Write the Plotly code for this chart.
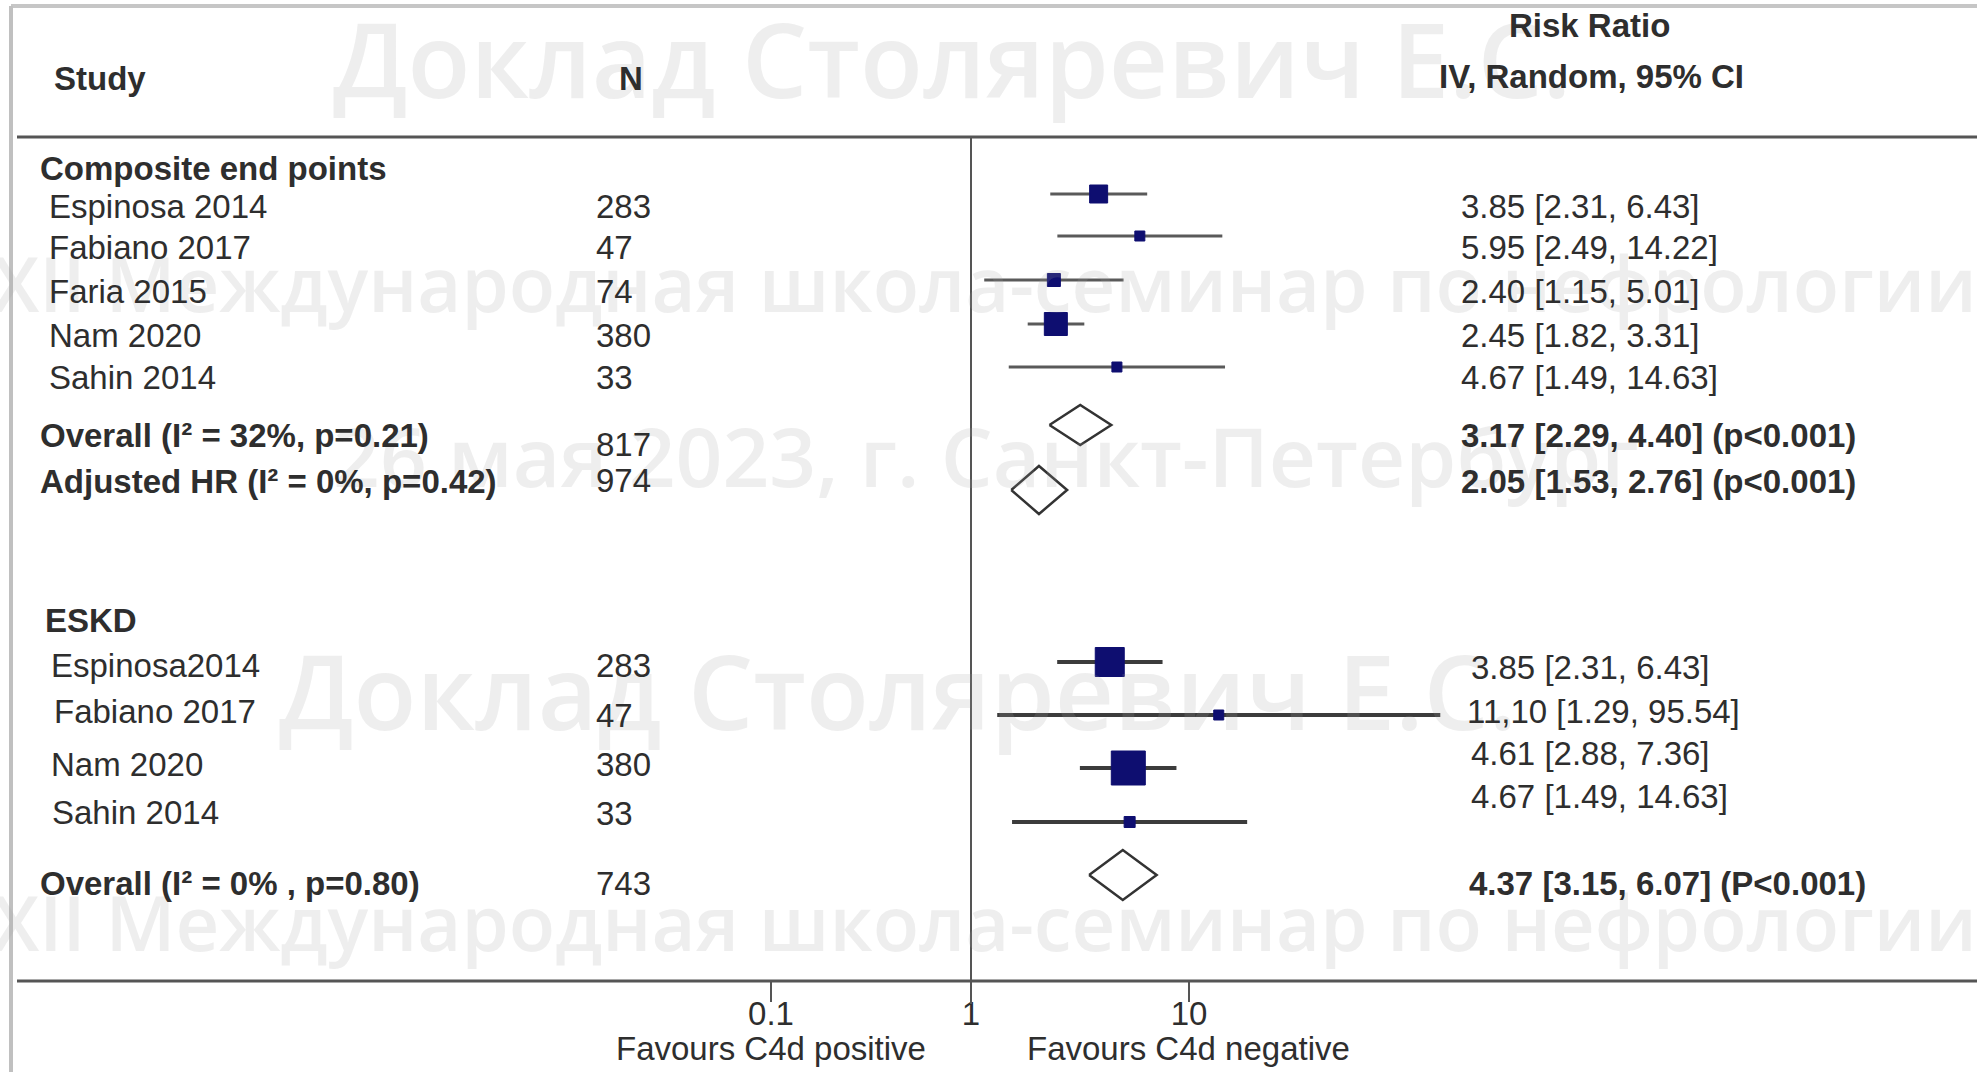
import plotly.graph_objects as go

W, H = 1977, 1072

# ---------------- data ----------------
comp_studies = ["Espinosa 2014", "Fabiano 2017", "Faria 2015", "Nam 2020", "Sahin 2014"]
comp_n = [283, 47, 74, 380, 33]
comp_rr = [3.85, 5.95, 2.40, 2.45, 4.67]
comp_lo = [2.31, 2.49, 1.15, 1.82, 1.49]
comp_hi = [6.43, 14.22, 5.01, 3.31, 14.63]
comp_ci_text = ["3.85 [2.31, 6.43]", "5.95 [2.49, 14.22]", "2.40 [1.15, 5.01]",
                "2.45 [1.82, 3.31]", "4.67 [1.49, 14.63]"]

comp_sum_labels = ["Overall (I² = 32%, p=0.21)", "Adjusted HR (I² = 0%, p=0.42)"]
comp_sum_n = [817, 974]
comp_sum_rr = [3.17, 2.05]
comp_sum_lo = [2.29, 1.53]
comp_sum_hi = [4.40, 2.76]
comp_sum_text = ["3.17 [2.29, 4.40] (p<0.001)", "2.05 [1.53, 2.76] (p<0.001)"]

eskd_studies = ["Espinosa2014", "Fabiano 2017", "Nam 2020", "Sahin 2014"]
eskd_n = [283, 47, 380, 33]
eskd_rr = [3.85, 11.10, 4.61, 4.67]
eskd_lo = [2.31, 1.29, 2.88, 1.49]
eskd_hi = [6.43, 95.54, 7.36, 14.63]
eskd_ci_text = ["3.85 [2.31, 6.43]", "11,10 [1.29, 95.54]", "4.61 [2.88, 7.36]", "4.67 [1.49, 14.63]"]

eskd_sum_label = "Overall (I² = 0% , p=0.80)"
eskd_sum_n = 743
eskd_sum_rr = 4.37
eskd_sum_lo = 3.15
eskd_sum_hi = 6.07
eskd_sum_text = "4.37 [3.15, 6.07] (P<0.001)"

outer_ticks = [0.1, 10]
outer_tick_labels = ["0.1", "10"]
centre_tick = [1]
centre_tick_label = ["1"]

watermark_lines = ["Доклад Столяревич Е.С.",
                   "XII Международная школа-семинар по нефрологии",
                   "26 мая 2023, г. Санкт-Петербург",
                   "Доклад Столяревич Е.С.",
                   "XII Международная школа-семинар по нефрологии"]

# ---------------- layout / style ----------------
X_ONE = 971            # pixel where RR = 1 (forest panels)
X_ONE_TICKS = 980      # centre used by the bottom tick axis
UP_SCALE = 218         # px per decade, upper panel
LOW_SCALE = 237        # px per decade, lower panel
TICK_SCALE = 209       # px per decade, bottom axis
AXIS_Y = 981
SEP_Y = 137

FONT = "Liberation Sans, Arial, sans-serif"
TXT = "#2e2e2e"
NAVY = "#0e0e70"
FS = 33

comp_text_y = [206, 247, 291, 335, 377]
comp_mark_y = [194, 236, 280, 324, 367]
comp_sum_text_y = [435, 481]
comp_sum_n_y = [444, 480]
comp_sum_mark_y = [425, 490]
comp_sum_half = [20, 24]
comp_sizes = [18, 10, 13, 23, 10]

eskd_text_y = [665, 711, 764, 812]
eskd_n_y = [665, 715, 764, 813]
eskd_ci_y = [667, 711, 753, 796]
eskd_mark_y = [662, 715, 768, 822]
eskd_label_x = [49, 52, 49, 50]
eskd_ci_x = [1469, 1465, 1469, 1469]
eskd_sizes = [29, 10, 34, 11]
eskd_sum_y = 883
eskd_sum_mark_y = 875
eskd_sum_half = 25

# watermark placement (centre x, centre y, font size)
wm_layout = [(952, 58, 103), (984, 282, 76), (985, 455, 82), (898, 690, 103), (984, 921, 76)]


def rng(scale, centre=X_ONE):
    return [(0 - centre) / scale, (W - centre) / scale]


fig = go.Figure()
annotations = []


def txt(xpx, ypx, text, bold=False, anchor="left", size=FS, color=TXT):
    annotations.append(dict(
        x=xpx / W, xref="paper", y=ypx, yref="y", text=("<b>%s</b>" % text) if bold else text,
        xanchor=anchor, yanchor="middle", showarrow=False,
        font=dict(family=FONT, size=size, color=color)))


# watermark
for (wx, wy, wsz), line in zip(wm_layout, watermark_lines):
    annotations.append(dict(
        x=wx / W, xref="paper", y=wy, yref="y", text=line, xanchor="center", yanchor="middle",
        showarrow=False,
        font=dict(family="Open Sans", size=wsz, color="rgba(160,160,160,0.18)", weight=600)))

# headers
txt(52, 78, "Study", bold=True)
txt(631, 78, "N", bold=True, anchor="center")
txt(1589, 25, "Risk Ratio", bold=True, anchor="center")
txt(1591, 76, "IV, Random, 95% CI", bold=True, anchor="center")

# composite section text
txt(38, 168, "Composite end points", bold=True)
for name, n, ci, y in zip(comp_studies, comp_n, comp_ci_text, comp_text_y):
    txt(47, y, name)
    txt(594, y, str(n))
    txt(1459, y, ci)
for lab, n, ci, ty, ny in zip(comp_sum_labels, comp_sum_n, comp_sum_text, comp_sum_text_y, comp_sum_n_y):
    txt(38, ty, lab, bold=True)
    txt(594, ny, str(n))
    txt(1459, ty, ci, bold=True)

# ESKD section text
txt(43, 620, "ESKD", bold=True)
for name, n, ci, ty, ny, cy, lx, cx in zip(eskd_studies, eskd_n, eskd_ci_text, eskd_text_y,
                                           eskd_n_y, eskd_ci_y, eskd_label_x, eskd_ci_x):
    txt(lx, ty, name)
    txt(594, ny, str(n))
    txt(cx, cy, ci)
txt(38, eskd_sum_y, eskd_sum_label, bold=True)
txt(594, eskd_sum_y, str(eskd_sum_n))
txt(1467, eskd_sum_y, eskd_sum_text, bold=True)

# favours labels
txt(771, 1048, "Favours C4d positive", anchor="center")
txt(1188, 1048, "Favours C4d negative", anchor="center")


def ci_trace(lo, hi, ys, xaxis, width, color):
    xs, yy = [], []
    for a, b, y in zip(lo, hi, ys):
        xs += [a, b, None]
        yy += [y, y, None]
    return go.Scatter(x=xs, y=yy, xaxis=xaxis, yaxis="y", mode="lines",
                      line=dict(color=color, width=width), hoverinfo="skip", showlegend=False)


def diamond(est, lo, hi, yc, half, xaxis):
    return go.Scatter(x=[lo, est, hi, est, lo], y=[yc, yc - half, yc, yc + half, yc],
                      xaxis=xaxis, yaxis="y", mode="lines", fill="toself", fillcolor="white",
                      line=dict(color="#333333", width=2.5), hoverinfo="skip", showlegend=False)


# upper panel
fig.add_trace(ci_trace(comp_lo, comp_hi, comp_mark_y, "x", 3, "#5a5a5a"))
fig.add_trace(go.Scatter(x=comp_rr, y=comp_mark_y, xaxis="x", yaxis="y", mode="markers",
                         marker=dict(symbol="square", size=comp_sizes, color=NAVY, opacity=1,
                                     line=dict(width=1, color=NAVY)), showlegend=False))
for est, lo, hi, yc, hh in zip(comp_sum_rr, comp_sum_lo, comp_sum_hi, comp_sum_mark_y, comp_sum_half):
    fig.add_trace(diamond(est, lo, hi, yc, hh, "x"))

# lower panel
fig.add_trace(ci_trace(eskd_lo, eskd_hi, eskd_mark_y, "x2", 4, "#3c3c3c"))
fig.add_trace(go.Scatter(x=eskd_rr, y=eskd_mark_y, xaxis="x2", yaxis="y", mode="markers",
                         marker=dict(symbol="square", size=eskd_sizes, color=NAVY, opacity=1,
                                     line=dict(width=1, color=NAVY)), showlegend=False))
fig.add_trace(diamond(eskd_sum_rr, eskd_sum_lo, eskd_sum_hi, eskd_sum_mark_y, eskd_sum_half, "x2"))

# invisible traces for the tick axes
for ax in ("x3", "x4"):
    fig.add_trace(go.Scatter(x=[1], y=[AXIS_Y], xaxis=ax, yaxis="y", mode="markers",
                             marker=dict(opacity=0), hoverinfo="skip", showlegend=False))

shapes = [
    # outer frame (top / left)
    dict(type="line", xref="paper", yref="y", x0=11 / W, x1=1, y0=6, y1=6,
         line=dict(color="#c6c6c6", width=4)),
    dict(type="line", xref="paper", yref="y", x0=11 / W, x1=11 / W, y0=6, y1=H,
         line=dict(color="#c0c0c0", width=4)),
    # header separator
    dict(type="line", xref="paper", yref="y", x0=17 / W, x1=1, y0=SEP_Y, y1=SEP_Y,
         line=dict(color="#555555", width=3)),
    # axis line
    dict(type="line", xref="paper", yref="y", x0=17 / W, x1=1, y0=AXIS_Y, y1=AXIS_Y,
         line=dict(color="#555555", width=3)),
    # line of no effect
    dict(type="line", xref="x", yref="y", x0=1, x1=1, y0=SEP_Y, y1=1004,
         line=dict(color="#555555", width=2)),
]

tick_common = dict(type="log", overlaying="x", anchor="free", position=1 - AXIS_Y / H,
                   side="bottom", showline=False, showgrid=False, zeroline=False,
                   tickmode="array", tickwidth=2, ticks="outside", ticklen=20,
                   ticklabelstandoff=-17, tickfont=dict(family=FONT, size=FS, color=TXT))

fig.update_layout(
    width=W, height=H, autosize=False,
    margin=dict(l=0, r=0, t=0, b=0),
    paper_bgcolor="white", plot_bgcolor="white",
    showlegend=False,
    yaxis=dict(range=[H, 0], domain=[0, 1], visible=False, fixedrange=True),
    xaxis=dict(type="log", range=rng(UP_SCALE), domain=[0, 1], visible=False, anchor="y"),
    xaxis2=dict(type="log", range=rng(LOW_SCALE), overlaying="x", visible=False, anchor="y"),
    xaxis3=dict(range=rng(TICK_SCALE, X_ONE_TICKS), tickvals=outer_ticks,
                ticktext=outer_tick_labels, tickcolor="#555555", **tick_common),
    xaxis4=dict(range=rng(UP_SCALE), tickvals=centre_tick, ticktext=centre_tick_label,
                tickcolor="rgba(0,0,0,0)", **tick_common),
    annotations=annotations,
    shapes=shapes,
)

fig.write_html("out.html",
               config={"displayModeBar": False},
               post_script="document.body.style.margin='0px';document.body.style.padding='0px';"
                           "document.documentElement.style.overflow='hidden';")
